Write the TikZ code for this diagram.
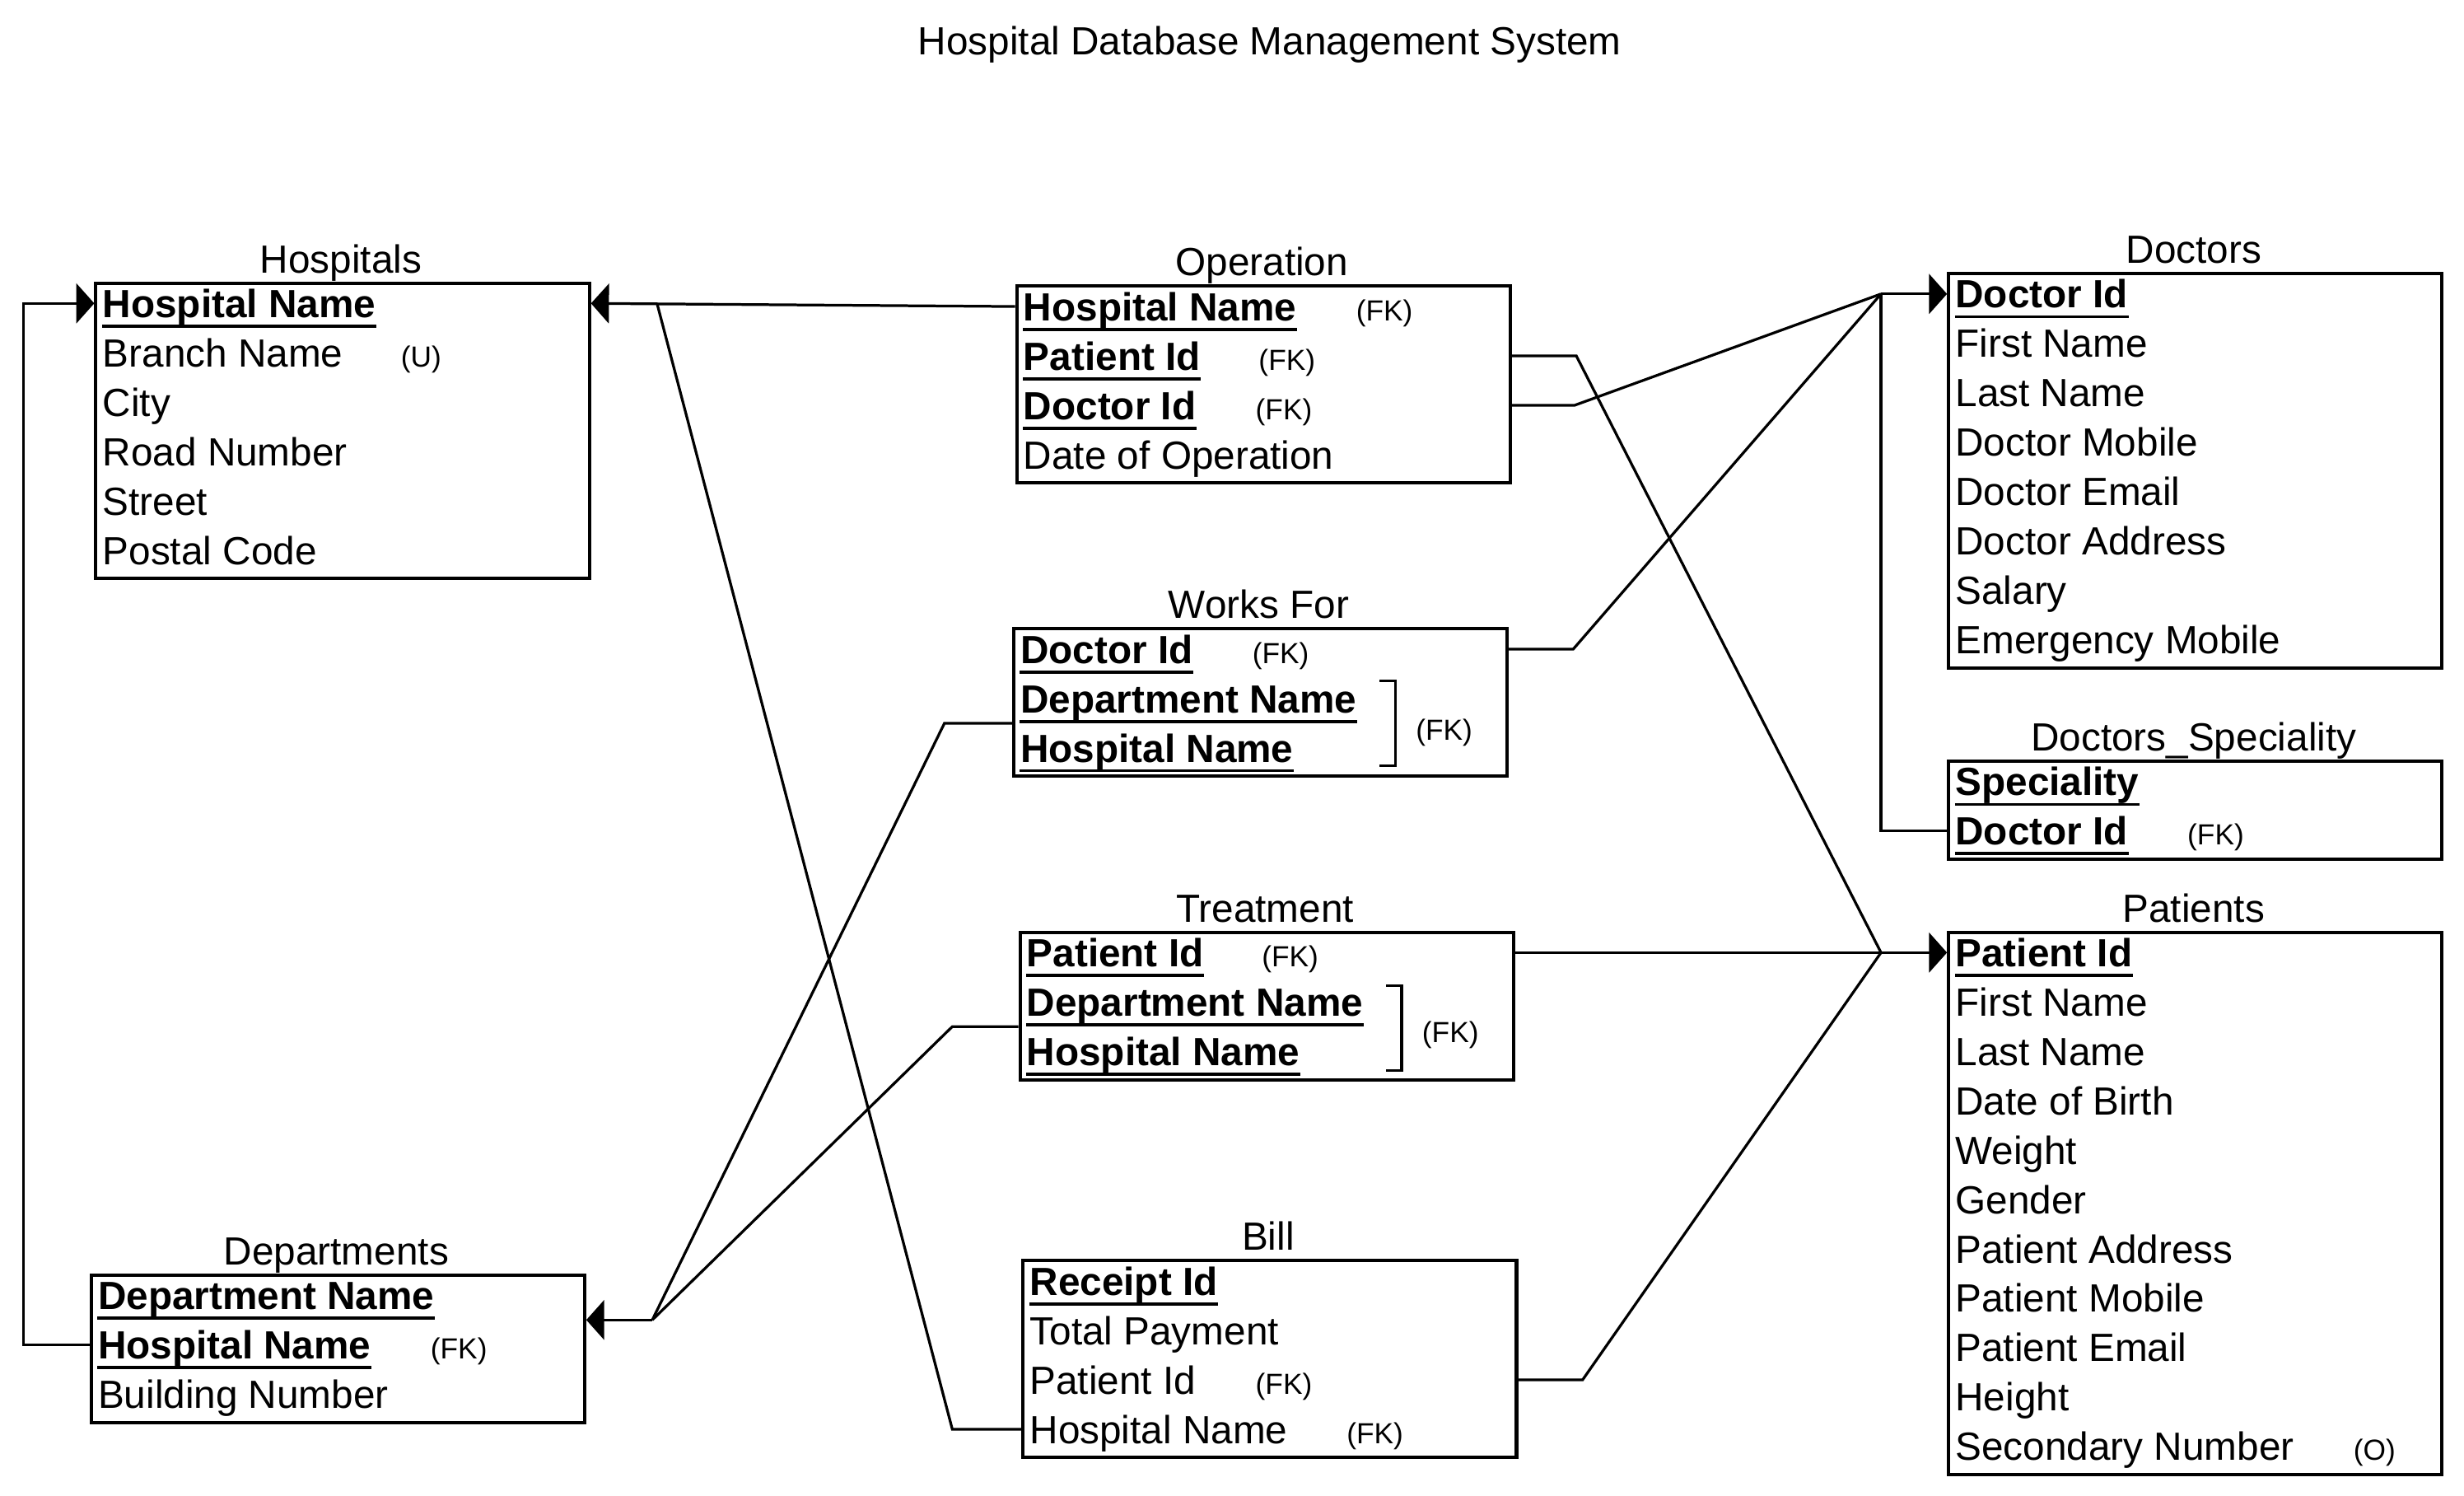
\documentclass[tikz,border=0pt]{standalone}
\usepackage{fontspec}
\setmainfont{Liberation Sans}
\usepackage{tikz}
\usetikzlibrary{arrows.meta,positioning,calc}

\begin{document}
\begin{tikzpicture}[x=0.5pt, y=-0.5pt,
    tbl/.style={draw, line width=1.05pt, anchor=north west, minimum width=157pt, inner sep=0pt},
    head/.style={anchor=base, inner sep=0pt, font=\fontsize{12.5}{15}\selectfont},
    attr/.style={anchor=base west, inner sep=0pt, text height=11.6pt, text depth=2.6pt, font=\fontsize{12.5}{15}\selectfont},
    pkey/.style={attr, font=\fontsize{12.5}{15}\selectfont\bfseries,
        append after command={(\tikzlastnode.south west) edge[line width=0.9pt] (\tikzlastnode.south east)}},
    fk/.style={anchor=base, inner sep=0pt, font=\fontsize{9.25}{11}\selectfont},
    link/.style={line width=0.85pt},
    ref/.style={link, -{Triangle[length=5.7pt, width=12.6pt]}}]
    \useasboundingbox (0,0) rectangle (1568,951.7);

    \node[head] (title) at (808,35) {Hospital Database Management System};

    % Hospitals
    \node[tbl, minimum height=94pt] (hosp) at (60,179) {};
    \node[head] (hospT) at (217,173.5) {Hospitals};
    \node[pkey] (h1) at (65,202) {Hospital Name};
    \foreach \a [count=\i from 2] in {Branch Name, City, Road Number, Street, Postal Code}
        \node[attr] (h\i) at (65,{202+31.4*(\i-1)}) {\a};
    \node[fk] (hU) at (268,233.4) {(U)};

    % Departments
    \node[tbl, minimum height=46.9pt] (dept) at (57,810) {};
    \node[head] (deptT) at (214,804.5) {Departments};
    \node[pkey] (d1) at (62,833) {Department Name};
    \node[pkey] (d2) at (62,864.4) {Hospital Name};
    \node[attr] (d3) at (62,895.8) {Building Number};
    \node[fk] (dFK) at (292,864.4) {(FK)};

    % Operation
    \node[tbl, minimum height=62.6pt] (oper) at (646,181) {};
    \node[head] (operT) at (803,175.5) {Operation};
    \foreach \a [count=\i] in {Hospital Name, Patient Id, Doctor Id}
        \node[pkey] (o\i) at (651,{204+31.4*(\i-1)}) {\a};
    \node[attr] (o4) at (651,298.2) {Date of Operation};
    \node[fk] (oFK1) at (881,204) {(FK)};
    \node[fk] (oFK2) at (819,235.4) {(FK)};
    \node[fk] (oFK3) at (817,266.8) {(FK)};

    % Works For
    \node[tbl, minimum height=46.9pt] (works) at (644,399) {};
    \node[head] (worksT) at (801,393.5) {Works For};
    \foreach \a [count=\i] in {Doctor Id, Department Name, Hospital Name}
        \node[pkey] (w\i) at (649,{422+31.4*(\i-1)}) {\a};
    \node[fk] (wFK1) at (815,422) {(FK)};
    \draw[link] (878,433) -- (888,433) -- (888,487) -- (878,487);
    \node[fk] (wFK2) at (919,471) {(FK)};

    % Treatment
    \node[tbl, minimum height=46.9pt] (treat) at (648,592) {};
    \node[head] (treatT) at (805,586.5) {Treatment};
    \foreach \a [count=\i] in {Patient Id, Department Name, Hospital Name}
        \node[pkey] (t\i) at (653,{615+31.4*(\i-1)}) {\a};
    \node[fk] (tFK1) at (821,615) {(FK)};
    \draw[link] (882,627) -- (892,627) -- (892,681) -- (882,681);
    \node[fk] (tFK2) at (923,663) {(FK)};

    % Bill
    \node[tbl, minimum height=62.6pt] (bill) at (650,801) {};
    \node[head] (billT) at (807,795.5) {Bill};
    \node[pkey] (b1) at (655,824) {Receipt Id};
    \foreach \a [count=\i from 2] in {Total Payment, Patient Id, Hospital Name}
        \node[attr] (b\i) at (655,{824+31.4*(\i-1)}) {\a};
    \node[fk] (bFK3) at (817,886.8) {(FK)};
    \node[fk] (bFK4) at (875,918.2) {(FK)};

    % Doctors
    \node[tbl, minimum height=125.4pt] (doc) at (1239,173) {};
    \node[head] (docT) at (1396,167.5) {Doctors};
    \node[pkey] (c1) at (1244,196) {Doctor Id};
    \foreach \a [count=\i from 2] in {First Name, Last Name, Doctor Mobile, Doctor Email, Doctor Address, Salary, Emergency Mobile}
        \node[attr] (c\i) at (1244,{196+31.4*(\i-1)}) {\a};

    % Doctors_Speciality
    \node[tbl, minimum height=31.2pt] (spec) at (1239,483) {};
    \node[head] (specT) at (1396,477.5) {Doctors\_Speciality};
    \node[pkey] (s1) at (1244,506) {Speciality};
    \node[pkey] (s2) at (1244,537.4) {Doctor Id};
    \node[fk] (sFK) at (1410,537.4) {(FK)};

    % Patients
    \node[tbl, minimum height=172.5pt] (pat) at (1239,592) {};
    \node[head] (patT) at (1396,586.5) {Patients};
    \node[pkey] (p1) at (1244,615) {Patient Id};
    \foreach \a [count=\i from 2] in {First Name, Last Name, Date of Birth, Weight, Gender, Patient Address, Patient Mobile, Patient Email, Height, Secondary Number}
        \node[attr] (p\i) at (1244,{615+31.4*(\i-1)}) {\a};
    \node[fk] (pO) at (1511,929) {(O)};

    % joins
    \coordinate (hjoin) at ($(hosp.east |- h1.west)+(42,0)$);
    \coordinate (dmid) at ($(d1.west)!.5!(d2.west)$);
    \coordinate (djoin) at ($(dept.east |- dmid)+(42,0)$);
    \coordinate (wmid) at ($(w2.west)!.5!(w3.west)$);
    \coordinate (tmid) at ($(t2.west)!.5!(t3.west)$);
    \coordinate (pjoin) at ($(pat.west |- p1.west)+(-42,0)$);
    \coordinate (cjoin) at ($(doc.west |- c1.west)+(-42,0)$);

    % to Hospitals
    \draw[ref] (oper.west |- o1.west) -- (hosp.east |- h1.west);
    \draw[link] (bill.west |- b4.west) -- ++(-44,0) -- (hjoin);
    \draw[ref] (dept.west |- d2.west) -- ++(-42,0) |- (hosp.west |- h1.west);

    % to Departments
    \draw[ref] (djoin) -- (dept.east |- dmid);
    \draw[link] (works.west |- wmid) -- ++(-43,0) -- (djoin);
    \draw[link] (treat.west |- tmid) -- ++(-42,0) -- (djoin);

    % to Patients
    \draw[ref] (pjoin) -- (pat.west |- p1.west);
    \draw[link] (oper.east |- o2.west) -- ++(41,0) -- (pjoin);
    \draw[link] (treat.east |- t1.west) -- (pjoin);
    \draw[link] (bill.east |- b3.west) -- ++(41,0) -- (pjoin);

    % to Doctors
    \draw[ref] (cjoin) -- (doc.west |- c1.west);
    \draw[link] (oper.east |- o3.west) -- ++(40,0) -- (cjoin);
    \draw[link] (works.east |- w1.west) -- ++(41,0) -- (cjoin);
    \draw[link] (spec.west |- s2.west) -- ++(-42,0) -- (cjoin);
\end{tikzpicture}
\end{document}
